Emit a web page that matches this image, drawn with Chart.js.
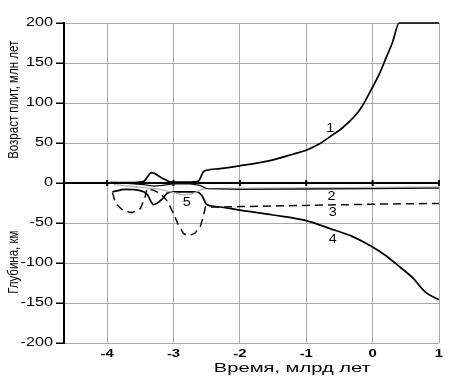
<!DOCTYPE html>
<html>
<head>
<meta charset="utf-8">
<script src="https://cdn.jsdelivr.net/npm/chart.js@4.4.1/dist/chart.umd.min.js"></script>
<style>
  body { margin: 0; background: #fff; }
</style>
</head>
<body>
<canvas id="myChart" width="464" height="376"></canvas>
<script>
// tick labels
const xTicks = [-4, -3, -2, -1, 0, 1];
const yTicks = [200, 150, 100, 50, 0, -50, -100, -150, -200];

// curve 1 - plate age
const curve1 = [[-3.9, 0.5], [-3.6, 0.5], [-3.45, 2], [-3.33, 13], [-3.17, 6], [-3.02, 1],
  [-2.8, 1], [-2.63, 2], [-2.55, 14], [-2.5, 16], [-2.3, 18], [-2.0, 21.5], [-1.5, 29],
  [-1.2, 36], [-1.0, 41], [-0.8, 49], [-0.64, 58], [-0.44, 70], [-0.19, 92], [0.0, 120],
  [0.1, 136], [0.19, 154], [0.3, 176], [0.4, 200], [1.0, 200]];
// curve 2 - thin line just under zero
const curve2 = [[-3.95, 1], [-3.6, -1], [-3.45, -2], [-3.3, -4], [-3.17, -3], [-3.0, -1],
  [-2.75, -1], [-2.6, -3], [-2.5, -7], [-2.0, -8], [-1.0, -7.5], [0, -7], [1, -6.5]];
// grey boundary of region 5
const curveGrey = [[-3.9, -2], [-3.6, -4.5], [-3.2, -8], [-3.0, -12], [-2.85, -15], [-2.7, -13],
  [-2.55, -7], [-2.0, -6.5], [-1.0, -6], [0, -5.5], [1, -5]];
// curve 3 - dashed
const curve3 = [[-3.92, -12], [-3.87, -26], [-3.75, -35], [-3.62, -37], [-3.5, -32], [-3.43, -18],
  [-3.4, -7], [-3.3, -9], [-3.2, -13], [-3.1, -22], [-3.0, -38], [-2.93, -52], [-2.85, -63],
  [-2.78, -66], [-2.68, -63], [-2.6, -55], [-2.55, -42], [-2.52, -30], [-2.3, -30], [-2.0, -29.5],
  [-1.0, -28], [0, -26.5], [1, -25.5]];
// curve 4 - depth
const curve4 = [[-3.92, -11], [-3.72, -8], [-3.5, -9.6], [-3.4, -14], [-3.3, -27], [-3.17, -20],
  [-3.1, -13], [-3.0, -11], [-2.65, -11], [-2.57, -16], [-2.5, -27], [-2.3, -30], [-2.0, -34],
  [-1.5, -40], [-1.0, -47], [-0.64, -57], [-0.3, -67], [0, -80], [0.2, -91], [0.41, -105],
  [0.61, -119], [0.79, -136], [1.0, -146]];

// curve numbers
const curveNames = ['1', '2', '3', '4', '5'];
const nameX = [-0.64, -0.62, -0.6, -0.6, -2.8];
const nameY = [68, -17, -37, -71, -25];

const FONT = '"Liberation Sans", Arial, sans-serif';
const STRETCH = 1.35;

function pts(arr) {
  return arr.map(p => ({ x: p[0], y: p[1] }));
}

function txt(ctx, s, x, y, font, sx, align, rotate) {
  ctx.save();
  ctx.translate(x, y);
  ctx.scale(sx, 1);
  if (rotate) ctx.rotate(-Math.PI / 2);
  ctx.font = font;
  ctx.fillStyle = '#000';
  ctx.textAlign = align;
  ctx.textBaseline = 'middle';
  ctx.fillText(s, 0, 0);
  ctx.restore();
}

const textPlugin = {
  id: 'texts',
  afterDraw(chart) {
    const ctx = chart.ctx;
    const xs = chart.scales.x;
    const ys = chart.scales.y;
    const left = xs.left;
    // tick marks left of the y axis
    ctx.save();
    ctx.fillStyle = '#000';
    yTicks.forEach(v => {
      const py = Math.round(ys.getPixelForValue(v));
      ctx.fillRect(left - 8, py - 0.5, 8, 1.5);
    });
    ctx.restore();
    yTicks.forEach(v => {
      txt(ctx, String(v), 53, ys.getPixelForValue(v), '12px ' + FONT, STRETCH, 'right');
    });
    xTicks.forEach(v => {
      txt(ctx, String(v), xs.getPixelForValue(v), 354, 'bold 11px ' + FONT, STRETCH, 'center');
    });
    txt(ctx, 'Время, млрд лет', xs.getPixelForValue(-1.21), 368, '13px ' + FONT, 1.55, 'center');
    txt(ctx, 'Возраст плит, млн лет', 14, ys.getPixelForValue(104), '11.5px ' + FONT, STRETCH, 'center', true);
    txt(ctx, 'Глубина, км', 14, ys.getPixelForValue(-99), '11.5px ' + FONT, STRETCH, 'center', true);
    curveNames.forEach((n, i) => {
      txt(ctx, n, xs.getPixelForValue(nameX[i]), ys.getPixelForValue(nameY[i]), '12px ' + FONT, 1.2, 'center');
    });
  }
};

const ctx = document.getElementById('myChart');
const myChart = new Chart(ctx, {
  type: 'line',
  data: {
    datasets: [{
      data: pts(curve1),
      borderColor: '#000',
      borderWidth: 1.7,
      pointRadius: 0,
      cubicInterpolationMode: 'monotone',
      clip: 3
    }, {
      data: pts(curve2),
      borderColor: '#111',
      borderWidth: 1.3,
      pointRadius: 0
    }, {
      data: pts(curveGrey),
      borderColor: '#b4b4b4',
      borderWidth: 1.3,
      pointRadius: 0
    }, {
      data: pts(curve3),
      borderColor: '#111',
      borderWidth: 1.5,
      borderDash: [8, 5],
      pointRadius: 0
    }, {
      data: pts(curve4),
      borderColor: '#000',
      borderWidth: 1.7,
      pointRadius: 0,
      cubicInterpolationMode: 'monotone'
    }, {
      // small marks on the zero line
      data: xTicks.map(v => ({ x: v, y: 0 })),
      showLine: false,
      pointStyle: 'line',
      rotation: 90,
      pointRadius: 3,
      borderColor: '#000',
      borderWidth: 2,
      clip: false
    }]
  },
  options: {
    responsive: false,
    animation: false,
    devicePixelRatio: 1,
    layout: { padding: { left: 0, right: 25, top: 23, bottom: 0 } },
    plugins: {
      legend: { display: false },
      tooltip: { enabled: false }
    },
    scales: {
      x: {
        type: 'linear',
        min: -4.65,
        max: 1,
        afterBuildTicks: s => { s.ticks = xTicks.map(v => ({ value: v })); },
        afterFit: s => { s.height = 33; },
        ticks: { display: false },
        grid: { color: '#a8a8a8', lineWidth: 1, drawTicks: false },
        border: { display: false }
      },
      y: {
        min: -200,
        max: 200,
        afterBuildTicks: s => { s.ticks = yTicks.map(v => ({ value: v })); },
        afterFit: s => { s.width = 64; },
        ticks: { display: false },
        grid: {
          color: c => (c.tick && c.tick.value === 0 ? '#000' : '#a8a8a8'),
          lineWidth: c => (c.tick && c.tick.value === 0 ? 2 : 1),
          drawTicks: false
        },
        border: { color: '#000', width: 2 }
      }
    }
  },
  plugins: [textPlugin]
});
</script>
</body>
</html>
